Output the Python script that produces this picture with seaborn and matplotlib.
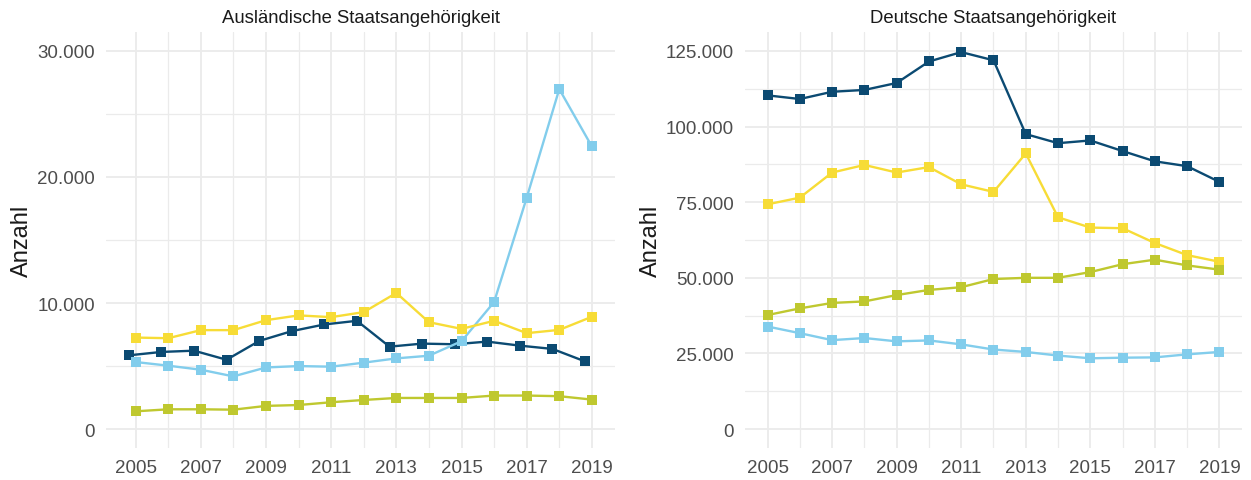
import matplotlib
matplotlib.use("Agg")
import matplotlib.pyplot as plt
import matplotlib.ticker as mticker
import pandas as pd
import seaborn as sns

years = list(range(2005, 2020))

# Ausländische Staatsangehörigkeit
ausl_dunkelblau = [5850, 6120, 6220, 5500, 6990, 7770, 8300, 8590, 6540, 6780, 6730, 6940, 6620, 6360, 5370]
ausl_hellblau = [5320, 5030, 4710, 4180, 4890, 5000, 4950, 5270, 5610, 5820, 6970, 10080, 18350, 26970, 22420]
ausl_gelb = [7260, 7210, 7850, 7850, 8640, 9020, 8880, 9280, 10800, 8480, 7950, 8590, 7610, 7870, 8910]
ausl_gruen = [1410, 1570, 1570, 1540, 1840, 1910, 2130, 2310, 2470, 2470, 2470, 2660, 2660, 2610, 2340]

# Deutsche Staatsangehörigkeit
dt_dunkelblau = [110300, 109100, 111500, 112100, 114400, 121500, 124600, 121900, 97500, 94500, 95400, 91900, 88500, 86900, 81700]
dt_hellblau = [33900, 31700, 29400, 30100, 29000, 29300, 28000, 26300, 25500, 24300, 23400, 23600, 23700, 24700, 25500]
dt_gelb = [74300, 76500, 84800, 87300, 84800, 86600, 80900, 78400, 91100, 70000, 66600, 66400, 61500, 57500, 55300]
dt_gruen = [37700, 39900, 41700, 42200, 44300, 46000, 46900, 49600, 50000, 50000, 51900, 54500, 56000, 54100, 52700]

groups = ["Gruppe 1", "Gruppe 2", "Gruppe 3", "Gruppe 4"]
colors = ["#0b4a72", "#82cdec", "#f7dc36", "#bfc82f"]
palette = dict(zip(groups, colors))


def long_frame(series, shift=None):
    rows = []
    for g, vals in zip(groups, series):
        off = (shift or {}).get(g, 0.0)
        for y, v in zip(years, vals):
            rows.append({"Jahr": y + off, "Anzahl": v, "Gruppe": g})
    return pd.DataFrame(rows)


# in the left panel the dark-blue series sits slightly left of the year grid
df_ausl = long_frame([ausl_dunkelblau, ausl_hellblau, ausl_gelb, ausl_gruen], shift={"Gruppe 1": -0.21})
df_dt = long_frame([dt_dunkelblau, dt_hellblau, dt_gelb, dt_gruen])

sns.set_theme(style="white")
plt.rcParams["font.family"] = ["Liberation Sans", "DejaVu Sans"]

W, H = 1251, 481
fig = plt.figure(figsize=(W / 100, H / 100), dpi=100)
ax1 = fig.add_axes([106 / W, 1 - 449 / H, (615 - 106) / W, (449 - 33) / H])
ax2 = fig.add_axes([745 / W, 1 - 449 / H, (1242 - 745) / W, (449 - 33) / H])

de_fmt = mticker.FuncFormatter(lambda v, p: f"{v:,.0f}".replace(",", "."))

panels = [
    (ax1, df_ausl, "Ausländische Staatsangehörigkeit", (2004.09, 2019.71), (-1500, 31500), 10000),
    (ax2, df_dt, "Deutsche Staatsangehörigkeit", (2004.3, 2019.7), (-6250, 131250), 25000),
]

for ax, df, title, xlim, ylim, step in panels:
    sns.lineplot(data=df, x="Jahr", y="Anzahl", hue="Gruppe", hue_order=groups,
                 palette=palette, marker="s", markersize=7.3, markeredgewidth=0,
                 linewidth=1.7, legend=False, ax=ax, zorder=3)
    ax.set_xlim(*xlim)
    ax.set_ylim(*ylim)
    ax.xaxis.set_major_locator(mticker.FixedLocator(years[::2]))
    ax.xaxis.set_minor_locator(mticker.FixedLocator(years[1::2]))
    ax.yaxis.set_major_locator(mticker.MultipleLocator(step))
    ax.yaxis.set_minor_locator(mticker.MultipleLocator(step / 2))
    ax.yaxis.set_major_formatter(de_fmt)
    ax.grid(which="major", color="#ebebeb", linewidth=1.3)
    ax.grid(which="minor", color="#ebebeb", linewidth=0.9)
    ax.set_axisbelow(True)
    for s in ax.spines.values():
        s.set_visible(False)
    ax.tick_params(which="both", length=0, labelsize=13.5, labelcolor="#4d4d4d", pad=8)
    ax.set_xlabel("")
    ax.set_ylabel("Anzahl", fontsize=17, color="#1a1a1a", labelpad=3)
    ax.set_title(title, fontsize=13.3, color="#1a1a1a", pad=7)

fig.savefig("out.png", dpi=100)
